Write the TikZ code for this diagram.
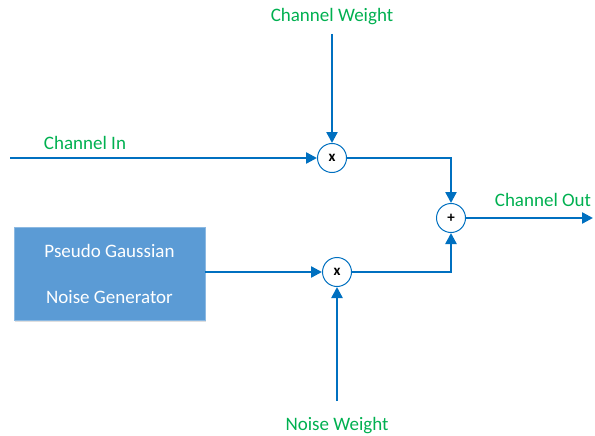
\documentclass[tikz,border=0pt]{standalone}
\usepackage{fontspec}
\setmainfont{Carlito}
\usetikzlibrary{arrows.meta,shadows}
\definecolor{wire}{HTML}{0070C0}
\definecolor{lbl}{HTML}{00B050}
\definecolor{boxfill}{HTML}{5B9BD5}
\begin{document}
\begin{tikzpicture}[x=1pt,y=-1pt,
  wirestyle/.style={draw=wire,line width=2.4pt,-{Triangle[length=11pt,width=11pt]}},
  op/.style={circle,draw=wire,line width=1pt,fill=white,minimum size=29pt,inner sep=0pt,font=\fontsize{15}{16}\selectfont\bfseries},
  lab/.style={text=lbl,font=\fontsize{19}{22}\selectfont},
  gen/.style={draw=boxfill!70!white,fill=boxfill,minimum width=191pt,minimum height=93pt,text=white,align=center,font=\fontsize{19}{22}\selectfont,drop shadow={opacity=0.25,shadow xshift=1pt,shadow yshift=-1.5pt}}]
\useasboundingbox (0,0) rectangle (595,436);
\node[op] (m1) at (332,158) {x};
\node[op] (sum) at (451,218) {+};
\node[op] (m2) at (337,272) {x};
\node[gen] (png) at (109.5,273.5) {Pseudo Gaussian\\[24pt]Noise Generator};
\node[lab] (cw) at (332,17) {Channel Weight};
\node[lab] (ci) at (85,143) {Channel In};
\node[lab] (co) at (543,200) {Channel Out};
\node[lab] (nw) at (337,426) {Noise Weight};
\coordinate (inS) at (10,158);
\coordinate (cwS) at (332,34);
\coordinate (nwS) at (337,401);
\coordinate (outE) at (593,218);
\draw[wirestyle] (inS) -- (m1.west);
\draw[wirestyle] (cwS) -- (m1.north);
\draw[wirestyle] (m1.east) -| (sum.north);
\draw[wirestyle] (sum.east) -- (outE);
\draw[wirestyle] (png.east |- m2) -- (m2.west);
\draw[wirestyle] (nwS) -- (m2.south);
\draw[wirestyle] (m2.east) -| (sum.south);
\end{tikzpicture}
\end{document}
